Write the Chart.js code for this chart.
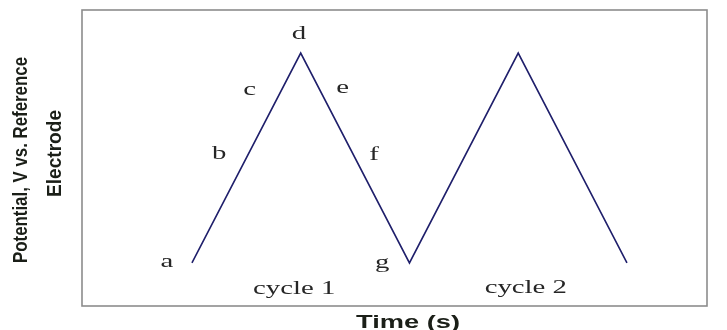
<!DOCTYPE html>
<html>
<head>
<meta charset="utf-8">
<script src="https://cdn.jsdelivr.net/npm/chart.js@4"></script>
<style>
  html, body { margin: 0; padding: 0; background: #fff; }
  #wrap { width: 727px; height: 330px; }
</style>
</head>
<body>
<div id="wrap"><canvas id="cv"></canvas></div>
<script>
// triangular potential sweep, two cycles
const timePts = [0, 1, 2, 3, 4];
const potential = [0, 1, 0, 1, 0];

// point letters and cycle captions, placed in data units (baseline)
const noteText = ['a', 'b', 'c', 'd', 'e', 'f', 'g', 'cycle 1', 'cycle 2'];
const noteX = [-0.23, 0.25, 0.53, 0.985, 1.385, 1.675, 1.75, 0.94, 3.07];
const noteY = [-0.02, 0.495, 0.8, 1.067, 0.81, 0.49, -0.024, -0.148, -0.145];

const yTitle = ['Potential, V vs. Reference', 'Electrode'];
const xTitle = 'Time (s)';

// draws text squeezed/stretched along its length to a given width
function fitText(ctx, txt, cx, base, width, yScale) {
  const w = ctx.measureText(txt).width;
  ctx.save();
  ctx.translate(cx, base);
  ctx.scale(width / w, yScale);
  ctx.fillText(txt, 0, 0);
  ctx.restore();
}

const notesPlugin = {
  id: 'notes',
  afterDraw(chart) {
    const { ctx, chartArea: a, scales: { x, y } } = chart;
    ctx.save();
    // frame
    ctx.strokeStyle = '#8c8c8c';
    ctx.lineWidth = 1.6;
    ctx.strokeRect(a.left, a.top, a.right - a.left, a.bottom - a.top);

    ctx.fillStyle = '#262626';
    ctx.font = '18px "Liberation Serif", "DejaVu Serif", serif';
    ctx.textAlign = 'center';
    ctx.textBaseline = 'alphabetic';
    noteText.forEach((t, i) => {
      ctx.save();
      ctx.translate(x.getPixelForValue(noteX[i]), y.getPixelForValue(noteY[i]));
      ctx.scale(1.6, 1);
      ctx.fillText(t, 0, 0);
      ctx.restore();
    });

    // axis titles
    ctx.fillStyle = '#1b1f18';
    ctx.font = 'bold 19px "Liberation Sans", Arial, sans-serif';
    fitText(ctx, xTitle, 408, 328, 104, 1);

    ctx.font = 'bold 17px "Liberation Sans", Arial, sans-serif';
    ctx.save();
    ctx.translate(27, 160);
    ctx.rotate(-Math.PI / 2);
    fitText(ctx, yTitle[0], 0, 0, 206, 1.2);
    ctx.restore();
    ctx.save();
    ctx.translate(61, 153.5);
    ctx.rotate(-Math.PI / 2);
    fitText(ctx, yTitle[1], 0, 0, 87, 1.2);
    ctx.restore();
    ctx.restore();
  }
};

new Chart(document.getElementById('cv'), {
  type: 'line',
  data: {
    datasets: [{
      data: timePts.map((t, i) => ({ x: t, y: potential[i] })),
      borderColor: '#1f1f6b',
      borderWidth: 1.6,
      pointRadius: 0,
      tension: 0,
      fill: false
    }]
  },
  options: {
    responsive: true,
    maintainAspectRatio: false,
    animation: false,
    layout: { padding: { left: 82, right: 20, top: 10, bottom: 24 } },
    plugins: { legend: { display: false }, tooltip: { enabled: false } },
    scales: {
      x: { type: 'linear', min: -1.011, max: 4.736, display: false },
      y: { type: 'linear', min: -0.205, max: 1.205, display: false }
    }
  },
  plugins: [notesPlugin]
});
</script>
</body>
</html>
